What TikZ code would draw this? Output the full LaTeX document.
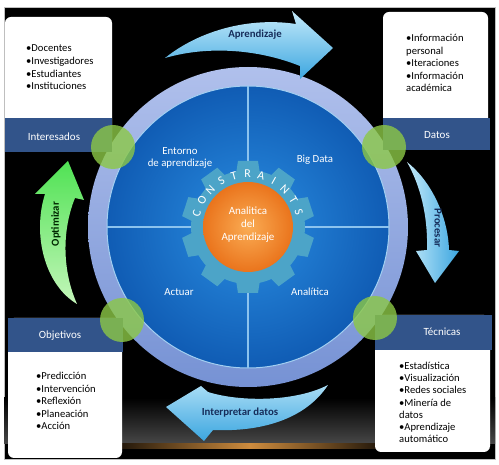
\documentclass[tikz,border=0pt]{standalone}
\usepackage{fontspec}
\setmainfont{Carlito}
\usetikzlibrary{calc}
\definecolor{bandblue}{RGB}{50,84,138}
\definecolor{gearteal}{RGB}{76,164,200}
\definecolor{ringlight}{RGB}{176,192,236}
\definecolor{ringdark}{RGB}{118,146,212}
\definecolor{discin}{RGB}{42,142,226}
\definecolor{discout}{RGB}{16,92,180}
\definecolor{crossline}{RGB}{140,195,238}
\definecolor{orangein}{RGB}{250,172,84}
\definecolor{orangeout}{RGB}{234,116,28}
\definecolor{leafgreen}{RGB}{140,200,70}
\definecolor{arrowlight}{RGB}{196,234,250}
\definecolor{arrowdark}{RGB}{60,166,224}
\definecolor{greenlight}{RGB}{196,246,186}
\definecolor{greendark}{RGB}{80,226,84}
\definecolor{arrowtext}{RGB}{22,45,90}
\definecolor{glow}{RGB}{206,140,62}
\tikzset{
  listtext/.style={anchor=north west, align=left, inner sep=0pt,
    font=\fontsize{10.6}{12.6}\selectfont},
  bandtext/.style={text=white, font=\fontsize{11}{13}\selectfont},
  quadtext/.style={text=white, align=center, font=\fontsize{10.8}{11.5}\selectfont},
  arrowlabel/.style={text=arrowtext, font=\bfseries\fontsize{10.8}{12}\selectfont},
  gearletter/.style={text=white, inner sep=0pt, font=\fontsize{12}{13}\selectfont},
  whitebox/.style={fill=white, rounded corners=6pt},
  band/.style={fill=bandblue},
  joint/.style={fill=leafgreen, opacity=0.8},
}
\begin{document}
\begin{tikzpicture}[x=1pt, y=-1pt]
  \useasboundingbox (0,0) rectangle (499,465);
  % background
  \fill[white] (0,0) rectangle (499,465);
  \fill[black, draw=gray!50, line width=0.6pt] (4,7) rectangle (495,459);
  \shade[top color=black, bottom color=black!72] (4,398) rectangle (495,444);
  \shade[left color=black, right color=black, middle color=glow] (95,444) rectangle (405,448.5);
  % wheel
  \coordinate (O) at (248,227);
  \def\ringR{160}
  \def\discR{141}
  \shade[top color=ringlight, bottom color=ringdark] (O) circle (\ringR);
  \shade[inner color=discin, outer color=discout] (O) circle (\discR);
  \draw[crossline!80, line width=1pt] (O) circle (\discR);
  \draw[crossline, line width=1.2pt] ($(O)+(0,-\discR)$) -- ($(O)+(0,\discR)$);
  \draw[crossline, line width=1.2pt] ($(O)+(-\discR,0)$) -- ($(O)+(\discR,0)$);
  % gear
  \begin{scope}[shift={(O)}]
    \fill[gearteal] (0,0) circle (57);
    \foreach \a in {0,36,...,324}
      \fill[gearteal, rotate=\a] (-12.5,-50) -- (-10,-66) -- (10,-66) -- (12.5,-50) -- cycle;
    \foreach \l [count=\i] in {C,O,N,S,T,R,A,I,N,T,S} {
      \pgfmathsetmacro\ang{165-14.9*(\i-1)}
      \node[gearletter, rotate=\ang-90] (letter\i) at (-\ang:53) {\l};
    }
  \end{scope}
  \shade[inner color=orangein, outer color=orangeout] (O) circle (45);
  \node[quadtext, font=\fontsize{11}{13}\selectfont] (core) at (248,225)
    {Analitica\\del\\Aprendizaje};
  % quadrants
  \node[quadtext] (entorno) at (180,158) {Entorno\\de aprendizaje};
  \node[quadtext] (bigdata) at (315,160) {Big Data};
  \node[quadtext] (actuar) at (179,292) {Actuar};
  \node[quadtext] (analitica) at (310,292) {Analítica};
  % boxes
  \fill[whitebox] (5,17) rectangle (112,152);
  \fill[band] (5,118) rectangle (112,152);
  \node[bandtext] (interesados) at (54,137) {Interesados};
  \node[listtext] (listTL) at (26,45)
    {•Docentes\\•Investigadores\\•Estudiantes\\•Instituciones};
  \fill[whitebox] (383,12) rectangle (488,150);
  \fill[band] (383,118) rectangle (490,150);
  \node[bandtext] (datos) at (437,135) {Datos};
  \node[listtext] (listTR) at (406,34)
    {•Información\\personal\\•Iteraciones\\•Información\\académica};
  \fill[whitebox] (8,318) rectangle (122,458);
  \fill[band] (8,318) rectangle (123,352);
  \node[bandtext] (objetivos) at (60,336) {Objetivos};
  \node[listtext] (listBL) at (36,372)
    {•Predicción\\•Intervención\\•Reflexión\\•Planeación\\•Acción};
  \fill[whitebox] (375,315) rectangle (490,452);
  \fill[band] (375,315) rectangle (492,350);
  \node[bandtext] (tecnicas) at (442,332) {Técnicas};
  \node[listtext, font=\fontsize{10.6}{12.2}\selectfont] (listBR) at (399,362)
    {•Estadística\\•Visualización\\•Redes sociales\\•Minería de\\datos\\•Aprendizaje\\automático};
  % joints
  \foreach \p in {(113,147),(384,147),(122,320),(375,318)}
    \fill[joint] \p circle (22);
  % cycle arrows
  \shade[top color=arrowlight, bottom color=arrowdark]
    (165,58) .. controls (200,30) and (250,17) .. (296,24) -- (292,11) -- (333,48)
    -- (300,79) -- (300,66) .. controls (260,50) and (210,45) .. (165,58) -- cycle;
  \node[arrowlabel] (aprendizaje) at (255,35) {Aprendizaje};
  \shade[left color=arrowlight, right color=arrowdark]
    (407,162) .. controls (430,180) and (448,215) .. (449,250) -- (459,251) -- (435,283)
    -- (416,251) -- (427,250) .. controls (428,215) and (420,185) .. (407,162) -- cycle;
  \node[arrowlabel, rotate=-90] (procesar) at (438,228) {Procesar};
  \shade[top color=arrowlight!80!arrowdark, bottom color=arrowdark]
    (328,385) .. controls (305,420) and (260,432) .. (213,430) -- (204,441) -- (166,407)
    -- (201,386) -- (208,392) .. controls (240,402) and (295,402) .. (328,385) -- cycle;
  \node[arrowlabel] (interpretar) at (240,413) {Interpretar datos};
  \shade[top color=greendark, bottom color=greenlight]
    (77,304) .. controls (45,285) and (32,235) .. (45,194) -- (35,194) -- (68,161)
    -- (84,200) -- (75,198) .. controls (62,230) and (62,270) .. (77,304) -- cycle;
  \node[arrowlabel, text=black!85!green, rotate=90] (optimizar) at (56,224) {Optimizar};
\end{tikzpicture}
\end{document}
